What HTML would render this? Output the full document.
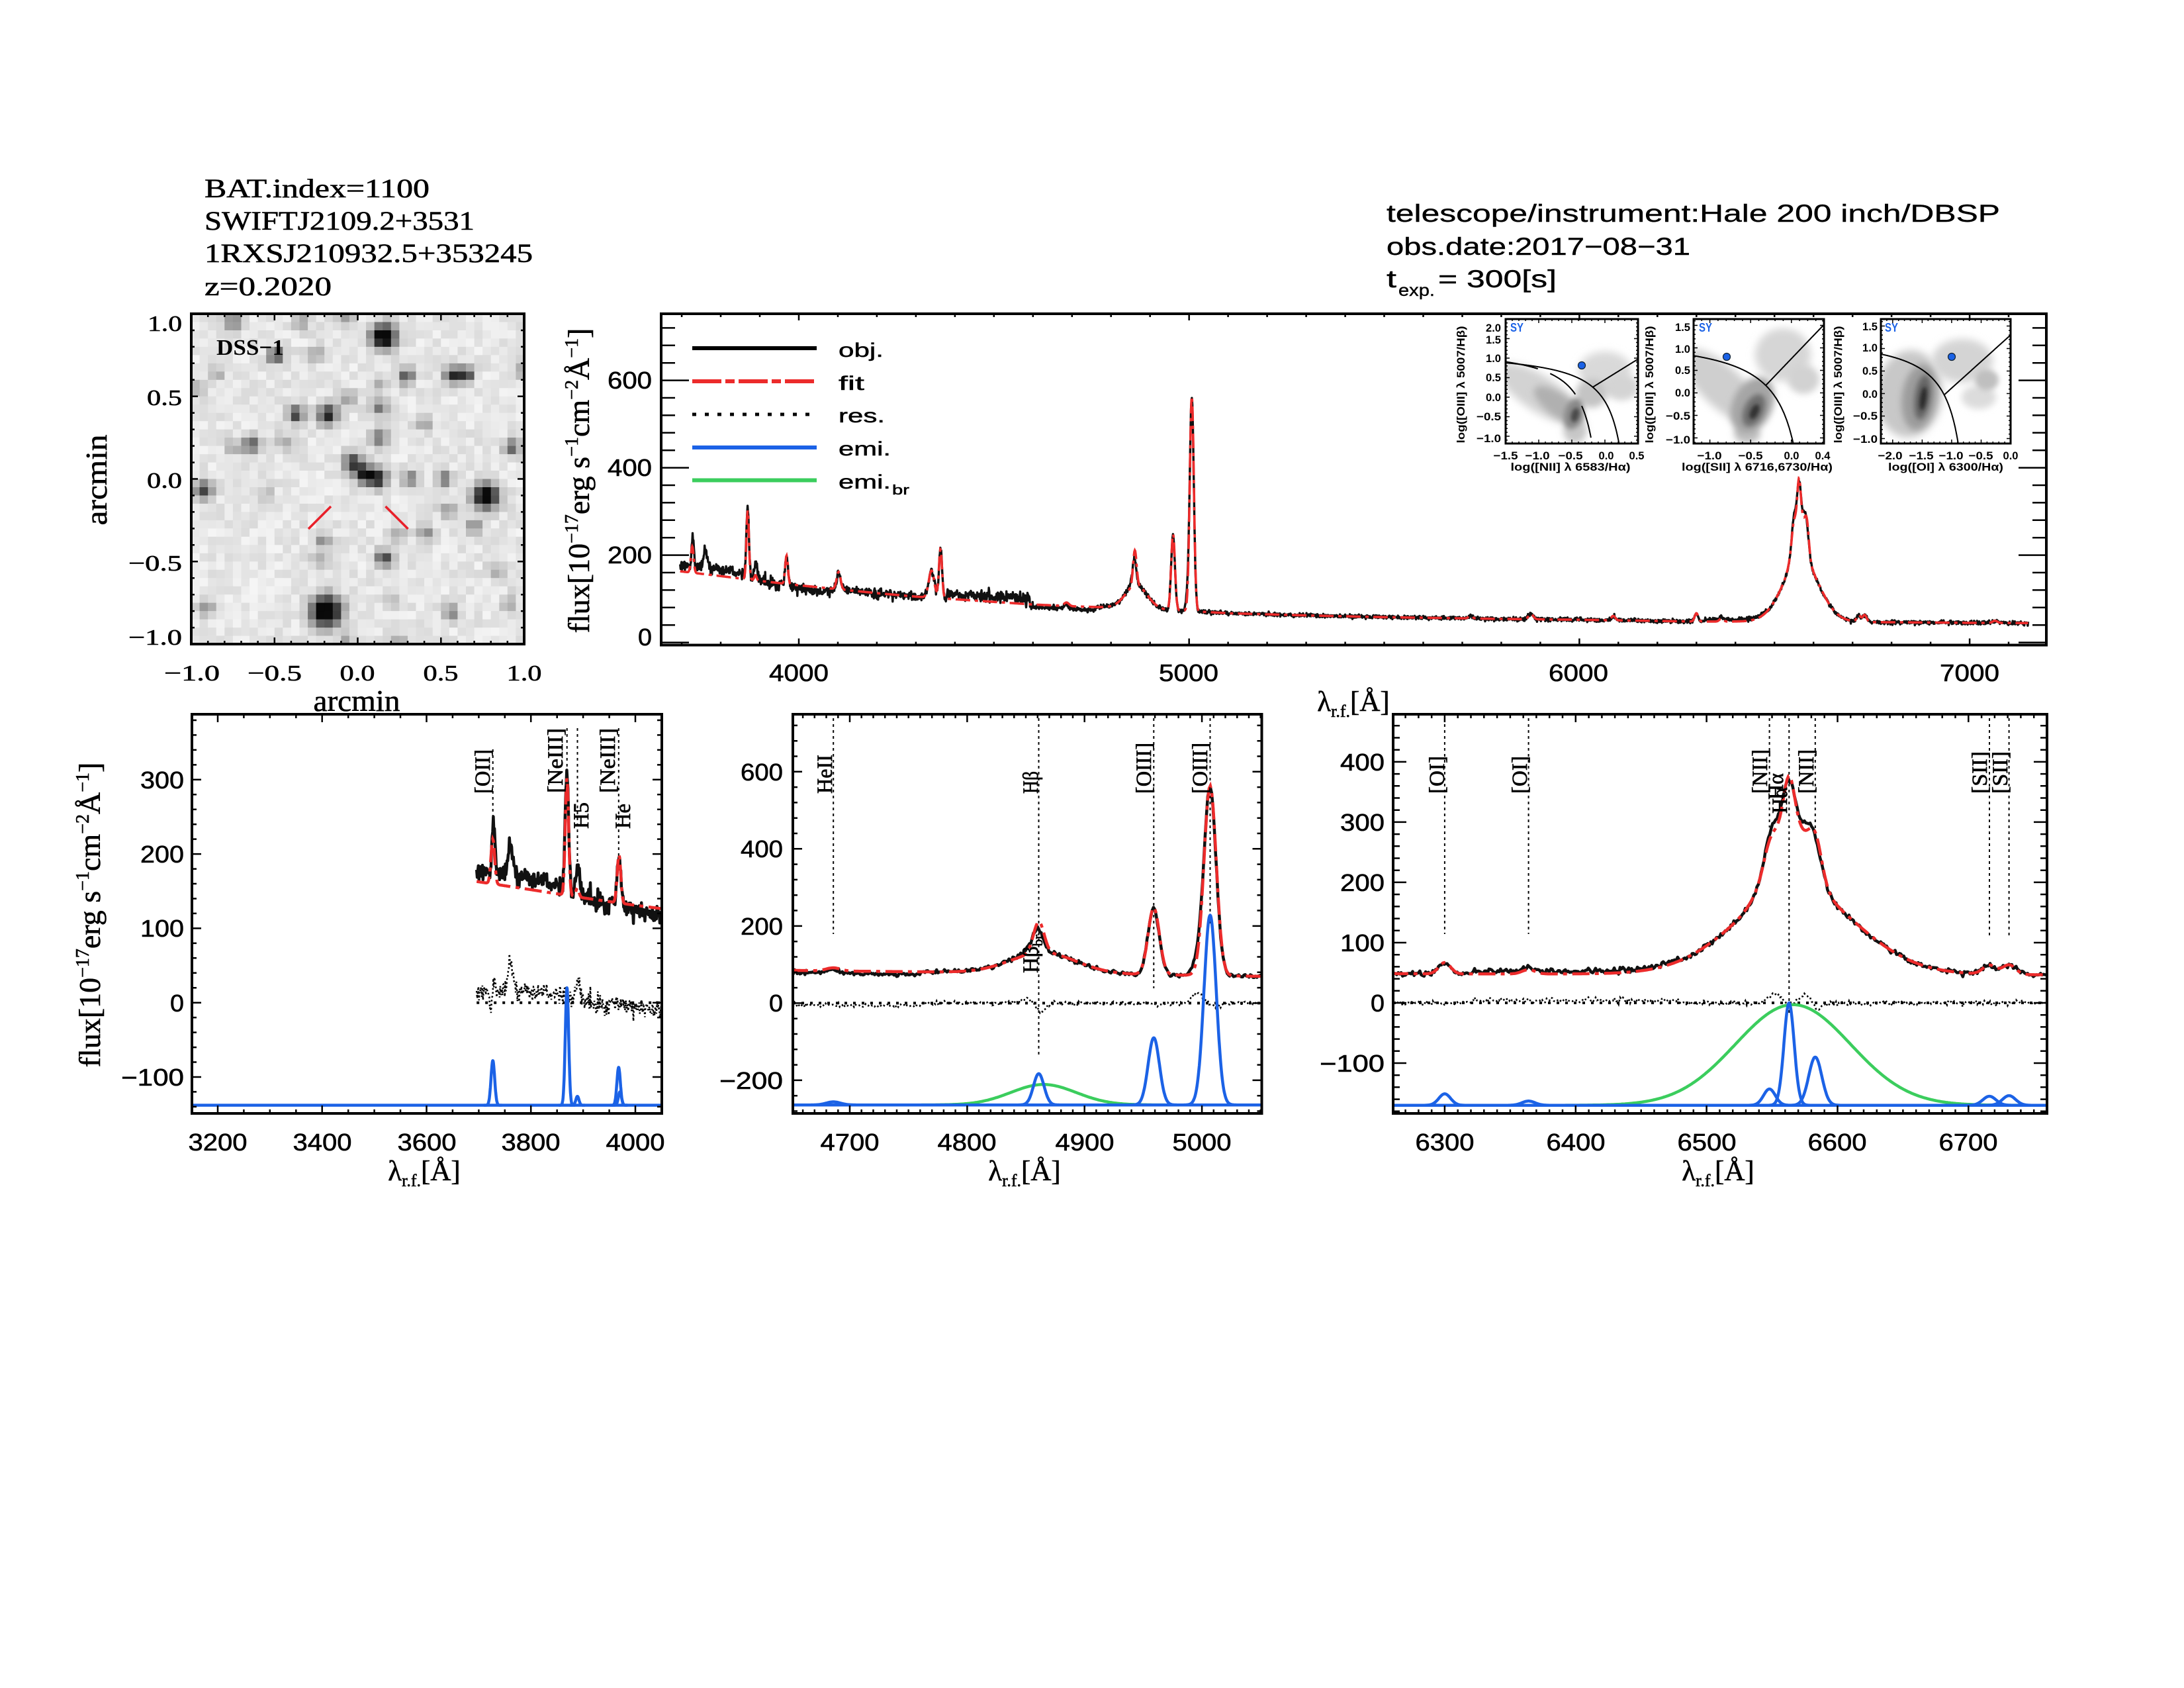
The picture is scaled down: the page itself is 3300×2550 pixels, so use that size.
<!DOCTYPE html>
<html><head><meta charset="utf-8"><title>BAT 1100 spectrum</title>
<style>
html,body{margin:0;padding:0;background:#fff;width:3300px;height:2550px;overflow:hidden}
svg{display:block}
.sf{font-family:"Liberation Serif","DejaVu Serif",serif}
.ss{font-family:"Liberation Sans","DejaVu Sans",sans-serif}
.sb{font-family:"Liberation Sans","DejaVu Sans",sans-serif;font-weight:bold}
</style></head><body>
<svg xmlns="http://www.w3.org/2000/svg" width="3300" height="2550" viewBox="0 0 3300 2550">
<defs>
<filter id="b3" x="-60%" y="-60%" width="220%" height="220%"><feGaussianBlur stdDeviation="3"/></filter>
<filter id="b4" x="-60%" y="-60%" width="220%" height="220%"><feGaussianBlur stdDeviation="4"/></filter>
<filter id="b5" x="-60%" y="-60%" width="220%" height="220%"><feGaussianBlur stdDeviation="5"/></filter>
<filter id="b6" x="-60%" y="-60%" width="220%" height="220%"><feGaussianBlur stdDeviation="6"/></filter>
<clipPath id="ci1"><rect x="2275" y="482" width="200" height="188"/></clipPath>
<clipPath id="ci2"><rect x="2559" y="482" width="197" height="188"/></clipPath>
<clipPath id="ci3"><rect x="2842" y="482" width="196" height="188"/></clipPath>
</defs>
<rect width="3300" height="2550" fill="#fff"/>
<g id="dyn"></g>
<g id="axes"></g>

<!-- legend lines -->
<line x1="1046" y1="526" x2="1234" y2="526" stroke="#000" stroke-width="6"/>
<line x1="1046" y1="576" x2="1234" y2="576" stroke="#ec2b2b" stroke-width="6" stroke-dasharray="44 6 14 6"/>
<line x1="1046" y1="626" x2="1234" y2="626" stroke="#000" stroke-width="5" stroke-dasharray="6 13"/>
<line x1="1046" y1="676" x2="1234" y2="676" stroke="#1b62e6" stroke-width="6"/>
<line x1="1046" y1="725.5" x2="1234" y2="725.5" stroke="#3bcd5d" stroke-width="6"/>

<!-- top-left info -->
<g class="sf" font-size="40" fill="#000" stroke="#000" stroke-width="0.6">
<text x="309" y="298" textLength="340" lengthAdjust="spacingAndGlyphs">BAT.index=1100</text>
<text x="309" y="347" textLength="408" lengthAdjust="spacingAndGlyphs">SWIFTJ2109.2+3531</text>
<text x="309" y="396" textLength="496" lengthAdjust="spacingAndGlyphs">1RXSJ210932.5+353245</text>
<text x="309" y="446" textLength="192" lengthAdjust="spacingAndGlyphs">z=0.2020</text>
</g>
<!-- top-right info -->
<g class="ss" font-size="37" fill="#000" stroke="#000" stroke-width="0.4">
<text x="2095" y="335" textLength="927" lengthAdjust="spacingAndGlyphs">telescope/instrument:Hale 200 inch/DBSP</text>
<text x="2095" y="385" textLength="459" lengthAdjust="spacingAndGlyphs">obs.date:2017−08−31</text>
<text x="2095" y="434" textLength="15" lengthAdjust="spacingAndGlyphs">t</text>
<text x="2113" y="447" font-size="25" textLength="55" lengthAdjust="spacingAndGlyphs">exp.</text>
<text x="2173" y="434" textLength="179" lengthAdjust="spacingAndGlyphs">= 300[s]</text>
</g>

<!-- DSS labels -->
<text class="sf" x="327" y="536" font-size="34" font-weight="bold" textLength="102" lengthAdjust="spacingAndGlyphs">DSS−1</text>
<g class="sf" font-size="34" fill="#000" stroke="#000" stroke-width="0.6" text-anchor="end">
<text x="275" y="500" textLength="52" lengthAdjust="spacingAndGlyphs">1.0</text>
<text x="275" y="612" textLength="53" lengthAdjust="spacingAndGlyphs">0.5</text>
<text x="275" y="737" textLength="53" lengthAdjust="spacingAndGlyphs">0.0</text>
<text x="275" y="862" textLength="81" lengthAdjust="spacingAndGlyphs">−0.5</text>
<text x="275" y="974" textLength="81" lengthAdjust="spacingAndGlyphs">−1.0</text>
</g>
<g class="sf" font-size="34" fill="#000" stroke="#000" stroke-width="0.6" text-anchor="middle">
<text x="290" y="1028" textLength="84" lengthAdjust="spacingAndGlyphs">−1.0</text>
<text x="415" y="1028" textLength="82" lengthAdjust="spacingAndGlyphs">−0.5</text>
<text x="540" y="1028" textLength="53" lengthAdjust="spacingAndGlyphs">0.0</text>
<text x="666" y="1028" textLength="53" lengthAdjust="spacingAndGlyphs">0.5</text>
<text x="792" y="1028" textLength="53" lengthAdjust="spacingAndGlyphs">1.0</text>
</g>
<text class="sf" x="539" y="1074" font-size="46" stroke="#000" stroke-width="0.6" text-anchor="middle" textLength="131" lengthAdjust="spacingAndGlyphs">arcmin</text>
<text class="sf" font-size="46" stroke="#000" stroke-width="0.6" text-anchor="middle" transform="translate(161,725) rotate(-90)" textLength="137" lengthAdjust="spacingAndGlyphs">arcmin</text>

<!-- main plot labels -->
<g class="ss" font-size="36" fill="#000" stroke="#000" stroke-width="0.6" text-anchor="end">
<text x="985" y="587" textLength="67" lengthAdjust="spacingAndGlyphs">600</text>
<text x="985" y="719" textLength="67" lengthAdjust="spacingAndGlyphs">400</text>
<text x="985" y="851" textLength="67" lengthAdjust="spacingAndGlyphs">200</text>
<text x="985" y="975" textLength="21" lengthAdjust="spacingAndGlyphs">0</text>
</g>
<g class="ss" font-size="36" fill="#000" stroke="#000" stroke-width="0.6" text-anchor="middle">
<text x="1207" y="1029" textLength="90" lengthAdjust="spacingAndGlyphs">4000</text>
<text x="1796" y="1029" textLength="90" lengthAdjust="spacingAndGlyphs">5000</text>
<text x="2385" y="1029" textLength="90" lengthAdjust="spacingAndGlyphs">6000</text>
<text x="2976" y="1029" textLength="90" lengthAdjust="spacingAndGlyphs">7000</text>
</g>
<text class="sf" font-size="46" stroke="#000" stroke-width="0.6" text-anchor="middle" transform="translate(890,726) rotate(-90)">flux[10<tspan font-size="28" dy="-17">−17</tspan><tspan dy="17">erg s</tspan><tspan font-size="28" dy="-17">−1</tspan><tspan dy="17">cm</tspan><tspan font-size="28" dy="-17">−2</tspan><tspan dy="17">Å</tspan><tspan font-size="28" dy="-17">−1</tspan><tspan dy="17">]</tspan></text>
<text class="sf" x="2045" y="1074" font-size="43" stroke="#000" stroke-width="0.6" text-anchor="middle">λ<tspan font-size="26" dy="9">r.f.</tspan><tspan dy="-9">[Å]</tspan></text>
<g class="ss" font-size="30" fill="#000" stroke="#000" stroke-width="0.5">
<text x="1267" y="539" textLength="68" lengthAdjust="spacingAndGlyphs">obj.</text>
<text x="1267" y="589" textLength="39" lengthAdjust="spacingAndGlyphs">fit</text>
<text x="1267" y="638" textLength="70" lengthAdjust="spacingAndGlyphs">res.</text>
<text x="1267" y="688" textLength="79" lengthAdjust="spacingAndGlyphs">emi.</text>
<text x="1267" y="738" textLength="79" lengthAdjust="spacingAndGlyphs">emi.</text>
<text x="1348" y="747" font-size="20" textLength="26" lengthAdjust="spacingAndGlyphs">br</text>
</g>

<!-- panel tick labels -->
<g class="ss" font-size="36" fill="#000" stroke="#000" stroke-width="0.6" text-anchor="end">
<text x="278" y="1191" textLength="66" lengthAdjust="spacingAndGlyphs">300</text>
<text x="278" y="1303" textLength="66" lengthAdjust="spacingAndGlyphs">200</text>
<text x="278" y="1415" textLength="66" lengthAdjust="spacingAndGlyphs">100</text>
<text x="278" y="1528" textLength="21" lengthAdjust="spacingAndGlyphs">0</text>
<text x="278" y="1640" textLength="95" lengthAdjust="spacingAndGlyphs">−100</text>
<text x="1183" y="1179" textLength="64" lengthAdjust="spacingAndGlyphs">600</text>
<text x="1183" y="1295" textLength="64" lengthAdjust="spacingAndGlyphs">400</text>
<text x="1183" y="1412" textLength="64" lengthAdjust="spacingAndGlyphs">200</text>
<text x="1183" y="1528" textLength="21" lengthAdjust="spacingAndGlyphs">0</text>
<text x="1183" y="1645" textLength="96" lengthAdjust="spacingAndGlyphs">−200</text>
<text x="2092" y="1164" textLength="67" lengthAdjust="spacingAndGlyphs">400</text>
<text x="2092" y="1255" textLength="67" lengthAdjust="spacingAndGlyphs">300</text>
<text x="2092" y="1346" textLength="67" lengthAdjust="spacingAndGlyphs">200</text>
<text x="2092" y="1437" textLength="67" lengthAdjust="spacingAndGlyphs">100</text>
<text x="2092" y="1528" textLength="21" lengthAdjust="spacingAndGlyphs">0</text>
<text x="2092" y="1619" textLength="98" lengthAdjust="spacingAndGlyphs">−100</text>
</g>
<g class="ss" font-size="36" fill="#000" stroke="#000" stroke-width="0.6" text-anchor="middle">
<text x="329" y="1738" textLength="89" lengthAdjust="spacingAndGlyphs">3200</text>
<text x="487" y="1738" textLength="89" lengthAdjust="spacingAndGlyphs">3400</text>
<text x="645" y="1738" textLength="89" lengthAdjust="spacingAndGlyphs">3600</text>
<text x="802" y="1738" textLength="89" lengthAdjust="spacingAndGlyphs">3800</text>
<text x="960" y="1738" textLength="89" lengthAdjust="spacingAndGlyphs">4000</text>
<text x="1284" y="1738" textLength="89" lengthAdjust="spacingAndGlyphs">4700</text>
<text x="1461" y="1738" textLength="89" lengthAdjust="spacingAndGlyphs">4800</text>
<text x="1639" y="1738" textLength="89" lengthAdjust="spacingAndGlyphs">4900</text>
<text x="1816" y="1738" textLength="89" lengthAdjust="spacingAndGlyphs">5000</text>
<text x="2183" y="1738" textLength="89" lengthAdjust="spacingAndGlyphs">6300</text>
<text x="2381" y="1738" textLength="89" lengthAdjust="spacingAndGlyphs">6400</text>
<text x="2579" y="1738" textLength="89" lengthAdjust="spacingAndGlyphs">6500</text>
<text x="2776" y="1738" textLength="89" lengthAdjust="spacingAndGlyphs">6600</text>
<text x="2974" y="1738" textLength="89" lengthAdjust="spacingAndGlyphs">6700</text>
</g>
<text class="sf" font-size="46" stroke="#000" stroke-width="0.6" text-anchor="middle" transform="translate(151,1382) rotate(-90)">flux[10<tspan font-size="28" dy="-17">−17</tspan><tspan dy="17">erg s</tspan><tspan font-size="28" dy="-17">−1</tspan><tspan dy="17">cm</tspan><tspan font-size="28" dy="-17">−2</tspan><tspan dy="17">Å</tspan><tspan font-size="28" dy="-17">−1</tspan><tspan dy="17">]</tspan></text>
<g class="sf" font-size="43" stroke="#000" stroke-width="0.6" text-anchor="middle">
<text x="641" y="1783">λ<tspan font-size="26" dy="9">r.f.</tspan><tspan dy="-9">[Å]</tspan></text>
<text x="1548" y="1783">λ<tspan font-size="26" dy="9">r.f.</tspan><tspan dy="-9">[Å]</tspan></text>
<text x="2596" y="1783">λ<tspan font-size="26" dy="9">r.f.</tspan><tspan dy="-9">[Å]</tspan></text>
</g>

<!-- line labels -->
<g class="sf" font-size="33" fill="#000" stroke="#000" stroke-width="0.7">
<text transform="translate(740,1199) rotate(-90)" textLength="67" lengthAdjust="spacingAndGlyphs">[OII]</text>
<text transform="translate(850,1198) rotate(-90)" textLength="98" lengthAdjust="spacingAndGlyphs">[NeIII]</text>
<text transform="translate(889,1252) rotate(-90)" textLength="40" lengthAdjust="spacingAndGlyphs">H5</text>
<text transform="translate(929,1198) rotate(-90)" textLength="98" lengthAdjust="spacingAndGlyphs">[NeIII]</text>
<text transform="translate(952,1252) rotate(-90)" textLength="38" lengthAdjust="spacingAndGlyphs">He</text>
<text transform="translate(1257,1199) rotate(-90)" textLength="59" lengthAdjust="spacingAndGlyphs">HeII</text>
<text transform="translate(1568,1199) rotate(-90)" textLength="34" lengthAdjust="spacingAndGlyphs">Hβ</text>
<text transform="translate(1739,1199) rotate(-90)" textLength="77" lengthAdjust="spacingAndGlyphs">[OIII]</text>
<text transform="translate(1824,1199) rotate(-90)" textLength="77" lengthAdjust="spacingAndGlyphs">[OIII]</text>
<text transform="translate(1568,1470) rotate(-90)">Hβ<tspan font-size="21" dy="7">br</tspan></text>
<text transform="translate(2182,1199) rotate(-90)" textLength="57" lengthAdjust="spacingAndGlyphs">[OI]</text>
<text transform="translate(2307,1199) rotate(-90)" textLength="57" lengthAdjust="spacingAndGlyphs">[OI]</text>
<text transform="translate(2670,1199) rotate(-90)" textLength="67" lengthAdjust="spacingAndGlyphs">[NII]</text>
<text transform="translate(2700,1229) rotate(-90)" textLength="40" lengthAdjust="spacingAndGlyphs">Hα</text>
<text transform="translate(2694,1208) rotate(-90)" textLength="40" lengthAdjust="spacingAndGlyphs">Hα</text>
<text transform="translate(2740,1199) rotate(-90)" textLength="67" lengthAdjust="spacingAndGlyphs">[NII]</text>
<text transform="translate(3002,1199) rotate(-90)" textLength="64" lengthAdjust="spacingAndGlyphs">[SII]</text>
<text transform="translate(3033,1199) rotate(-90)" textLength="64" lengthAdjust="spacingAndGlyphs">[SII]</text>
</g>

<!-- inset labels -->
<g class="sb" font-size="17" fill="#000">
<g text-anchor="end">
<text x="2268" y="501" textLength="23" lengthAdjust="spacingAndGlyphs">2.0</text>
<text x="2268" y="519" textLength="23" lengthAdjust="spacingAndGlyphs">1.5</text>
<text x="2268" y="547" textLength="23" lengthAdjust="spacingAndGlyphs">1.0</text>
<text x="2268" y="576" textLength="23" lengthAdjust="spacingAndGlyphs">0.5</text>
<text x="2268" y="606" textLength="23" lengthAdjust="spacingAndGlyphs">0.0</text>
<text x="2268" y="635" textLength="37" lengthAdjust="spacingAndGlyphs">−0.5</text>
<text x="2268" y="668" textLength="37" lengthAdjust="spacingAndGlyphs">−1.0</text>
<text x="2554" y="500" textLength="23" lengthAdjust="spacingAndGlyphs">1.5</text>
<text x="2554" y="533" textLength="23" lengthAdjust="spacingAndGlyphs">1.0</text>
<text x="2554" y="565" textLength="23" lengthAdjust="spacingAndGlyphs">0.5</text>
<text x="2554" y="599" textLength="23" lengthAdjust="spacingAndGlyphs">0.0</text>
<text x="2554" y="634" textLength="37" lengthAdjust="spacingAndGlyphs">−0.5</text>
<text x="2554" y="670" textLength="37" lengthAdjust="spacingAndGlyphs">−1.0</text>
<text x="2837" y="499" textLength="23" lengthAdjust="spacingAndGlyphs">1.5</text>
<text x="2837" y="531" textLength="23" lengthAdjust="spacingAndGlyphs">1.0</text>
<text x="2837" y="566" textLength="23" lengthAdjust="spacingAndGlyphs">0.5</text>
<text x="2837" y="601" textLength="23" lengthAdjust="spacingAndGlyphs">0.0</text>
<text x="2837" y="634" textLength="37" lengthAdjust="spacingAndGlyphs">−0.5</text>
<text x="2837" y="669" textLength="37" lengthAdjust="spacingAndGlyphs">−1.0</text>
</g>
<g text-anchor="middle">
<text x="2275" y="694" textLength="37" lengthAdjust="spacingAndGlyphs">−1.5</text>
<text x="2323" y="694" textLength="37" lengthAdjust="spacingAndGlyphs">−1.0</text>
<text x="2373" y="694" textLength="37" lengthAdjust="spacingAndGlyphs">−0.5</text>
<text x="2427" y="694" textLength="23" lengthAdjust="spacingAndGlyphs">0.0</text>
<text x="2473" y="694" textLength="23" lengthAdjust="spacingAndGlyphs">0.5</text>
<text x="2583" y="694" textLength="37" lengthAdjust="spacingAndGlyphs">−1.0</text>
<text x="2645" y="694" textLength="37" lengthAdjust="spacingAndGlyphs">−0.5</text>
<text x="2707" y="694" textLength="23" lengthAdjust="spacingAndGlyphs">0.0</text>
<text x="2754" y="694" textLength="23" lengthAdjust="spacingAndGlyphs">0.4</text>
<text x="2856" y="694" textLength="37" lengthAdjust="spacingAndGlyphs">−2.0</text>
<text x="2903" y="694" textLength="37" lengthAdjust="spacingAndGlyphs">−1.5</text>
<text x="2948" y="694" textLength="37" lengthAdjust="spacingAndGlyphs">−1.0</text>
<text x="2993" y="694" textLength="37" lengthAdjust="spacingAndGlyphs">−0.5</text>
<text x="3038" y="694" textLength="23" lengthAdjust="spacingAndGlyphs">0.0</text>
<text x="2373" y="711" textLength="181" lengthAdjust="spacingAndGlyphs">log([NII] λ 6583/Hα)</text>
<text x="2655" y="711" textLength="228" lengthAdjust="spacingAndGlyphs">log([SII] λ 6716,6730/Hα)</text>
<text x="2940" y="711" textLength="174" lengthAdjust="spacingAndGlyphs">log([OI] λ 6300/Hα)</text>
<text transform="translate(2213,581) rotate(-90)" textLength="177" lengthAdjust="spacingAndGlyphs">log([OIII] λ 5007/Hβ)</text>
<text transform="translate(2498,581) rotate(-90)" textLength="177" lengthAdjust="spacingAndGlyphs">log([OIII] λ 5007/Hβ)</text>
<text transform="translate(2783,581) rotate(-90)" textLength="177" lengthAdjust="spacingAndGlyphs">log([OIII] λ 5007/Hβ)</text>
</g>
<text x="2282" y="501" font-size="18" fill="#1b62e6" textLength="20" lengthAdjust="spacingAndGlyphs">SY</text>
<text x="2567" y="501" font-size="18" fill="#1b62e6" textLength="20" lengthAdjust="spacingAndGlyphs">SY</text>
<text x="2848" y="501" font-size="18" fill="#1b62e6" textLength="20" lengthAdjust="spacingAndGlyphs">SY</text>
</g>
</svg>
<script>
(function(){
var NS='http://www.w3.org/2000/svg';
var DYN=document.getElementById('dyn'),AX=document.getElementById('axes');
var BLUE='#1b62e6',GREEN='#3bcd5d',RED='#ec2b2b';
function el(t,a,p){var e=document.createElementNS(NS,t);for(var k in a)e.setAttribute(k,a[k]);(p||DYN).appendChild(e);return e;}
var seed=20170831;
function rnd(){seed=(Math.imul(seed,1664525)+1013904223)>>>0;return seed/4294967296;}
function nrm(){var s=0;for(var i=0;i<6;i++)s+=rnd();return (s-3)*1.41421;}
function Gs(l,c,s){var z=(l-c)/s;return Math.exp(-0.5*z*z);}
function f(v){return (Math.round(v*10)/10).toString();}
function mk(p){p.X=function(v){return p.L+(v-p.xa)/(p.xb-p.xa)*(p.R-p.L);};p.Y=function(v){return p.B-(v-p.ya)/(p.yb-p.ya)*(p.B-p.T);};return p;}
function frame(p){
 var d='',k,v,r,maj,l,x,y;
 for(k=Math.ceil(p.xa/p.xm-1e-6);k*p.xm<=p.xb+1e-6;k++){v=k*p.xm;r=v/p.xM;maj=Math.abs(r-Math.round(r))<1e-4;l=maj?p.xt:p.xt/2;x=f(p.X(v));d+='M'+x+' '+p.B+'v'+(-l)+'M'+x+' '+p.T+'v'+l;}
 for(k=Math.ceil(p.ya/p.ym-1e-6);k*p.ym<=p.yb+1e-6;k++){v=k*p.ym;r=v/p.yM;maj=Math.abs(r-Math.round(r))<1e-4;l=maj?p.yt:p.yt/2;y=f(p.Y(v));d+='M'+p.L+' '+y+'h'+l+'M'+p.R+' '+y+'h'+(-l);}
 el('path',{d:d,stroke:'#000','stroke-width':p.tw||2.5,fill:'none'},AX);
 el('rect',{x:p.L,y:p.T,width:p.R-p.L,height:p.B-p.T,fill:'none',stroke:'#000','stroke-width':p.lw||4},AX);
}
var cid=0;
function cg(p){var id='cp'+(cid++);var c=el('clipPath',{id:id});el('rect',{x:p.L,y:p.T,width:p.R-p.L,height:p.B-p.T},c);return el('g',{'clip-path':'url(#'+id+')'});}

/* ---------- spectrum model ---------- */
var CT=[[3600,170],[3696,163],[3800,152],[3900,141],[4000,131],[4100,122],[4200,113],[4300,105],[4400,99],[4500,93],[4600,87],[4700,83],[4800,80],[4900,76],[5000,72],[5100,67],[5300,62],[5500,58],[5800,54],[6000,52],[6300,48],[6500,48],[6700,47],[7000,45],[7300,44]];
function ip(l){for(var i=1;i<CT.length;i++){if(l<=CT[i][0]){var a=CT[i-1],b=CT[i];return a[1]+(b[1]-a[1])*(l-a[0])/(b[0]-a[0]);}}return 44;}
var NL=[[3727,60,3.5],[3869,158,3.2],[3889,12,3],[3968,51,3.3],[3970.5,18,3],[4686,8,6],[4861,81,4.5],[4959,174,4.8],[5007,492,5.2],[6300,19,4.5],[6364,7,5],[6548,27,4.5],[6563,170,3.9],[6583,80,5],[6716,15,5],[6731,16,5]];
var BL=[[4865,53,28],[6566,167,44]];
var FNL=[[3727,60,3.5],[3869,158,3.2],[3889,12,3],[3968,51,3.3],[3970.5,18,3],[4102,40,5],[4340,62,7],[4363,112,4],[4686,8,6],[4861,81,4.5],[4959,174,4.8],[5007,492,5.2],[5721,6,5],[5876,12,6],[6087,10,5],[6300,19,4.5],[6364,7,5],[6548,27,4.5],[6563,70,3.9],[6583,60,5],[6716,15,5],[6731,16,5],[7065,5,6]];
var FBL=[[4865,53,28],[6568,140,46],[6563,120,14]];
function fitF(l){var v=ip(l),i,n;for(i=0;i<FNL.length;i++){n=FNL[i];if(Math.abs(l-n[0])<8*n[2])v+=n[1]*Gs(l,n[0],n[2]);}for(i=0;i<FBL.length;i++){n=FBL[i];v+=n[1]*Gs(l,n[0],n[2]);}return v;}
function resF(l){
 var r=0;
 r+=15/(1+Math.exp((l-3870)/10));
 r+=38*Gs(l,3760,5);
 r+=18*Gs(l,3730,1.8)-30*Gs(l,3722,1.5);
 r+=30*Gs(l,3890,4);
 r-=12*Gs(l,3942,6);
 r-=10*Gs(l,4045,35);
 if(l>4380&&l<4592)r+=12;
 if(l>=4592&&l<4760)r-=6;
 r+=10*Gs(l,4850,6)-22*Gs(l,4863,4);
 r+=30*Gs(l,4996,4)-10*Gs(l,5013,3)-6*Gs(l,4962,3);
 r+=14*Gs(l,6552,5)+12*Gs(l,6575,4)-10*Gs(l,6585,3)-8*Gs(l,6563,2.5);
 if(l>6320&&l<6480)r+=4;
 return r;
}
function sg(l){if(l<4000)return 7;if(l<4380)return 5;if(l<4600)return 7;if(l<5100)return 2.5;return 2.2;}
var LA=[],FI=[],OB=[],RS=[];
for(var l=3696;l<=7151;l+=1.1){var fv=fitF(l);var ov=fv+resF(l)+sg(l)*nrm();LA.push(l);FI.push(fv);OB.push(ov);RS.push(ov-fv);}
function pth(p,xs,ys,lo,hi){var d='',s=true;for(var i=0;i<xs.length;i++){var q=xs[i];if(q<lo||q>hi)continue;d+=(s?'M':'L')+f(p.X(q))+' '+f(p.Y(ys[i]));s=false;}return d;}

/* ---------- main plot ---------- */
var M=mk({L:999,T:474,R:3092,B:974.5,xa:3647.3,xb:7196.6,ya:-5.9,yb:752.4,xM:1000,xm:100,yM:200,ym:40,xt:10,yt:42,lw:4});
var g=cg(M);
el('path',{d:pth(M,LA,OB,0,1e9),fill:'none',stroke:'#111','stroke-width':3.4,'stroke-linejoin':'round'},g);
el('path',{d:pth(M,LA,FI,0,1e9),fill:'none',stroke:RED,'stroke-width':3.6,'stroke-dasharray':'22 7 5 7'},g);
frame(M);

/* ---------- bottom panels ---------- */
function panel(p,base,marks){
 var g=cg(p);
 marks.forEach(function(m){var x=f(p.X(m[0]));el('line',{x1:x,y1:m[1],x2:x,y2:m[2],stroke:'#000','stroke-width':2,'stroke-dasharray':'4 5'},g);});
 var lo=Math.max(p.xa,3696);
 el('line',{x1:f(p.X(lo)),y1:f(p.Y(0)),x2:p.R,y2:f(p.Y(0)),stroke:'#000','stroke-width':4,'stroke-dasharray':'4 9'},g);
 el('path',{d:pth(p,LA,RS,p.xa-2,p.xb+2),fill:'none',stroke:'#000','stroke-width':2.6,'stroke-dasharray':'2.5 3.5'},g);
 el('path',{d:pth(p,LA,OB,p.xa-2,p.xb+2),fill:'none',stroke:'#111','stroke-width':4.5,'stroke-linejoin':'round'},g);
 el('path',{d:pth(p,LA,FI,p.xa-2,p.xb+2),fill:'none',stroke:RED,'stroke-width':4.5,'stroke-dasharray':'26 8 6 8'},g);
 BL.forEach(function(b){if(b[0]>p.xa&&b[0]<p.xb){var d='';for(var q=p.xa;q<=p.xb;q+=1){d+=(d?'L':'M')+f(p.X(q))+' '+f(p.Y(base+b[1]*Gs(q,b[0],b[2])));}el('path',{d:d,fill:'none',stroke:GREEN,'stroke-width':4.5},g);}});
 el('line',{x1:p.L,y1:f(p.Y(base)),x2:p.R,y2:f(p.Y(base)),stroke:BLUE,'stroke-width':4.5},g);
 NL.forEach(function(n){if(n[0]>p.xa&&n[0]<p.xb){var d='';for(var q=n[0]-5*n[2];q<=n[0]+5*n[2];q+=0.4){d+=(d?'L':'M')+f(p.X(q))+' '+f(p.Y(base+n[1]*Gs(q,n[0],n[2])));}el('path',{d:d,fill:'none',stroke:BLUE,'stroke-width':4.5,'stroke-linejoin':'round'},g);}});
 frame(p);
}
panel(mk({L:290,T:1079,R:1000,B:1682,xa:3150.6,xb:4050.7,ya:-149,yb:388,xM:200,xm:50,yM:100,ym:20,xt:12,yt:14,lw:4}),-138,
 [[3727,1132,1274],[3869,1100,1189],[3889,1100,1304],[3968,1100,1299]]);
panel(mk({L:1198,T:1079,R:1906.5,B:1682,xa:4651.5,xb:5051,ya:-286,yb:749,xM:100,xm:10,yM:200,ym:40,xt:12,yt:14,lw:4}),-264,
 [[4686,1085,1411],[4861,1085,1595],[4959,1085,1493],[5007,1085,1400]]);
panel(mk({L:2105,T:1079,R:3093,B:1682,xa:6260.6,xb:6760,ya:-183.5,yb:479,xM:100,xm:10,yM:100,ym:20,xt:12,yt:20,lw:4}),-170,
 [[6300,1085,1411],[6364,1085,1411],[6548,1085,1250],[6563,1085,1533],[6583,1085,1270],[6716,1085,1413],[6731,1085,1413]]);

/* ---------- DSS image ---------- */
var stars=[[0.157,0.862,1.3,0.045],[-0.75,0.95,0.6,0.03],[-0.49,0.75,0.8,0.03],[-0.33,0.95,0.35,0.03],[-0.065,0.97,0.35,0.03],[-0.25,0.76,0.3,0.03],[0.29,0.62,0.7,0.03],[0.57,0.63,0.8,0.03],[0.65,0.63,0.8,0.03],[0.13,0.58,0.3,0.025],[0.13,0.43,0.5,0.03],[0.13,0.25,0.55,0.03],[-0.37,0.39,0.8,0.03],[-0.18,0.39,0.95,0.035],[-0.055,0.49,0.4,0.03],[-0.64,0.21,0.7,0.03],[-0.75,0.19,0.3,0.03],[-0.44,0.22,0.3,0.03],[0.40,0.34,0.35,0.03],[0.93,0.19,0.6,0.03],[-0.03,0.1,0.8,0.035],[0.04,0.03,0.9,0.035],[0.12,0.0,0.9,0.035],[0.32,0.0,0.5,0.03],[0.52,0.0,0.55,0.03],[-0.93,-0.07,0.75,0.035],[0.77,-0.105,1.3,0.045],[-0.55,-0.1,0.25,0.03],[0.54,-0.19,0.4,0.03],[0.25,-0.33,0.3,0.03],[0.41,-0.33,0.45,0.03],[0.70,-0.29,0.45,0.03],[-0.21,-0.37,0.4,0.03],[-0.23,-0.49,0.3,0.03],[0.157,-0.48,0.8,0.03],[0.83,-0.56,0.3,0.03],[-0.19,-0.80,1.4,0.055],[-0.91,-0.78,0.4,0.03],[0.56,-0.81,0.45,0.03],[0.91,-0.75,0.3,0.03],[0.2,-0.74,0.25,0.03],[-0.07,-0.98,0.3,0.03],[0.25,-0.98,0.3,0.03],[0.98,0.66,0.3,0.03],[-0.96,0.55,0.3,0.03],[-0.85,0.64,0.3,0.03]];
var gd=el('g',{});
var N=40,cw=503/N,ch=499/N;
for(var j=0;j<N;j++)for(var i=0;i<N;i++){
 var a=-1+(i+0.5)*2/N,b=1-(j+0.5)*2/N,dk=0;
 for(var s=0;s<stars.length;s++){var S=stars[s];var dx=a-S[0],dy=b-S[1];var sg2=S[3]*1.15;dk+=S[2]*Math.exp(-(dx*dx+dy*dy)/(2*sg2*sg2));}
 var bg=0.905+(rnd()-0.5)*0.11;
 var v=bg*(1-Math.min(dk,1)*0.96);
 var c=Math.max(0,Math.min(255,Math.round(v*255)));
 el('rect',{x:f(289+i*cw),y:f(474+j*ch),width:f(cw+0.6),height:f(ch+0.6),fill:'rgb('+c+','+c+','+c+')'},gd);
}
el('line',{x1:466,y1:799,x2:500,y2:765,stroke:'#e8202a','stroke-width':3.5},gd);
el('line',{x1:582.5,y1:765,x2:616.5,y2:799,stroke:'#e8202a','stroke-width':3.5},gd);
frame(mk({L:289,T:474,R:792,B:973,xa:-1,xb:1,ya:-1,yb:1,xM:0.5,xm:0.1,yM:0.5,ym:0.1,xt:10,yt:10,lw:4}));

/* ---------- BPT insets ---------- */
function blobs(list,clip){var g=el('g',{'clip-path':'url(#'+clip+')'});list.forEach(function(b){el('ellipse',{cx:b[0],cy:b[1],rx:b[2],ry:b[3],transform:'rotate('+b[4]+' '+b[0]+' '+b[1]+')',fill:b[5],filter:'url(#b'+b[6]+')'},g);});return g;}
function curve(p,fn,x0,x1,attrs,g){var d='';for(var x=x0;x<=x1+1e-9;x+=0.005){var y=fn(x);if(!isFinite(y)||y<-3||y>4)continue;d+=(d?'L':'M')+f(p.X(x))+' '+f(p.Y(y));}attrs.d=d;attrs.fill='none';return el('path',attrs,g);}
var I1=mk({L:2275,R:2475,T:482,B:670,xa:-1.5,xb:0.5,ya:-1.186,yb:2.0,xM:0.5,xm:0.1,yM:0.5,ym:0.1,xt:6,yt:6,lw:3,tw:1.5});
var I2=mk({L:2559,R:2756,T:482,B:670,xa:-1.2,xb:0.4,ya:-1.125,yb:1.64,xM:0.5,xm:0.1,yM:0.5,ym:0.1,xt:6,yt:6,lw:3,tw:1.5});
var I3=mk({L:2842,R:3038,T:482,B:670,xa:-2.2,xb:0.0,ya:-1.11,yb:1.654,xM:0.5,xm:0.1,yM:0.5,ym:0.1,xt:6,yt:6,lw:3,tw:1.5});
var g1=blobs([[2327,595,74,27,33,'#d3d3d3',6],[2380,650,18,20,0,'#c8c8c8',5],[2425,559,40,28,0,'#d9d9d9',6],[2450,585,26,20,0,'#d4d4d4',5],[2405,594,24,22,0,'#c4c4c4',5],[2355,612,44,17,35,'#b0b0b0',5],[2378,625,14,24,15,'#8a8a8a',4],[2380,627,6,11,15,'#4a4a4a',3]],'ci1');
curve(I1,function(x){return 0.61/(x-0.47)+1.19;},-1.5,0.3,{stroke:'#000','stroke-width':2},g1);
curve(I1,function(x){return 0.61/(x-0.05)+1.3;},-1.5,-0.1,{stroke:'#000','stroke-width':2,'stroke-dasharray':'50 20'},g1);
curve(I1,function(x){return 1.05*x+0.45;},-0.185,0.5,{stroke:'#000','stroke-width':2},g1);
el('circle',{cx:2390,cy:552,r:5.5,fill:BLUE,stroke:'#123','stroke-width':1.2},g1);
frame(I1);
var g2=blobs([[2603,585,78,31,43,'#cfcfcf',6],[2694,536,42,40,0,'#d6d6d6',6],[2725,573,24,22,0,'#d2d2d2',5],[2640,655,20,15,0,'#c0c0c0',5],[2648,612,30,45,25,'#a6a6a6',5],[2650,620,15,26,25,'#6e6e6e',4],[2651,622,6,12,25,'#333',3]],'ci2');
curve(I2,function(x){return 0.72/(x-0.32)+1.30;},-1.2,0.25,{stroke:'#000','stroke-width':2},g2);
curve(I2,function(x){return 1.89*x+0.76;},-0.31,0.4,{stroke:'#000','stroke-width':2},g2);
el('circle',{cx:2609,cy:539,r:5.5,fill:BLUE,stroke:'#123','stroke-width':1.2},g2);
frame(I2);
var g3=blobs([[2885,595,50,66,5,'#c8c8c8',6],[2965,545,46,33,0,'#d4d4d4',6],[2990,600,26,18,0,'#dcdcdc',5],[3002,574,18,16,0,'#bfbfbf',4],[2900,600,26,50,8,'#9c9c9c',5],[2905,600,12,34,8,'#666',4],[2906,602,5,18,8,'#2a2a2a',3]],'ci3');
curve(I3,function(x){return 0.73/(x+0.59)+1.33;},-2.2,-0.65,{stroke:'#000','stroke-width':2},g3);
curve(I3,function(x){return 1.18*x+1.30;},-1.13,0.0,{stroke:'#000','stroke-width':2},g3);
el('circle',{cx:2949,cy:539,r:5.5,fill:BLUE,stroke:'#123','stroke-width':1.2},g3);
frame(I3);
})();
</script>
</body></html>
